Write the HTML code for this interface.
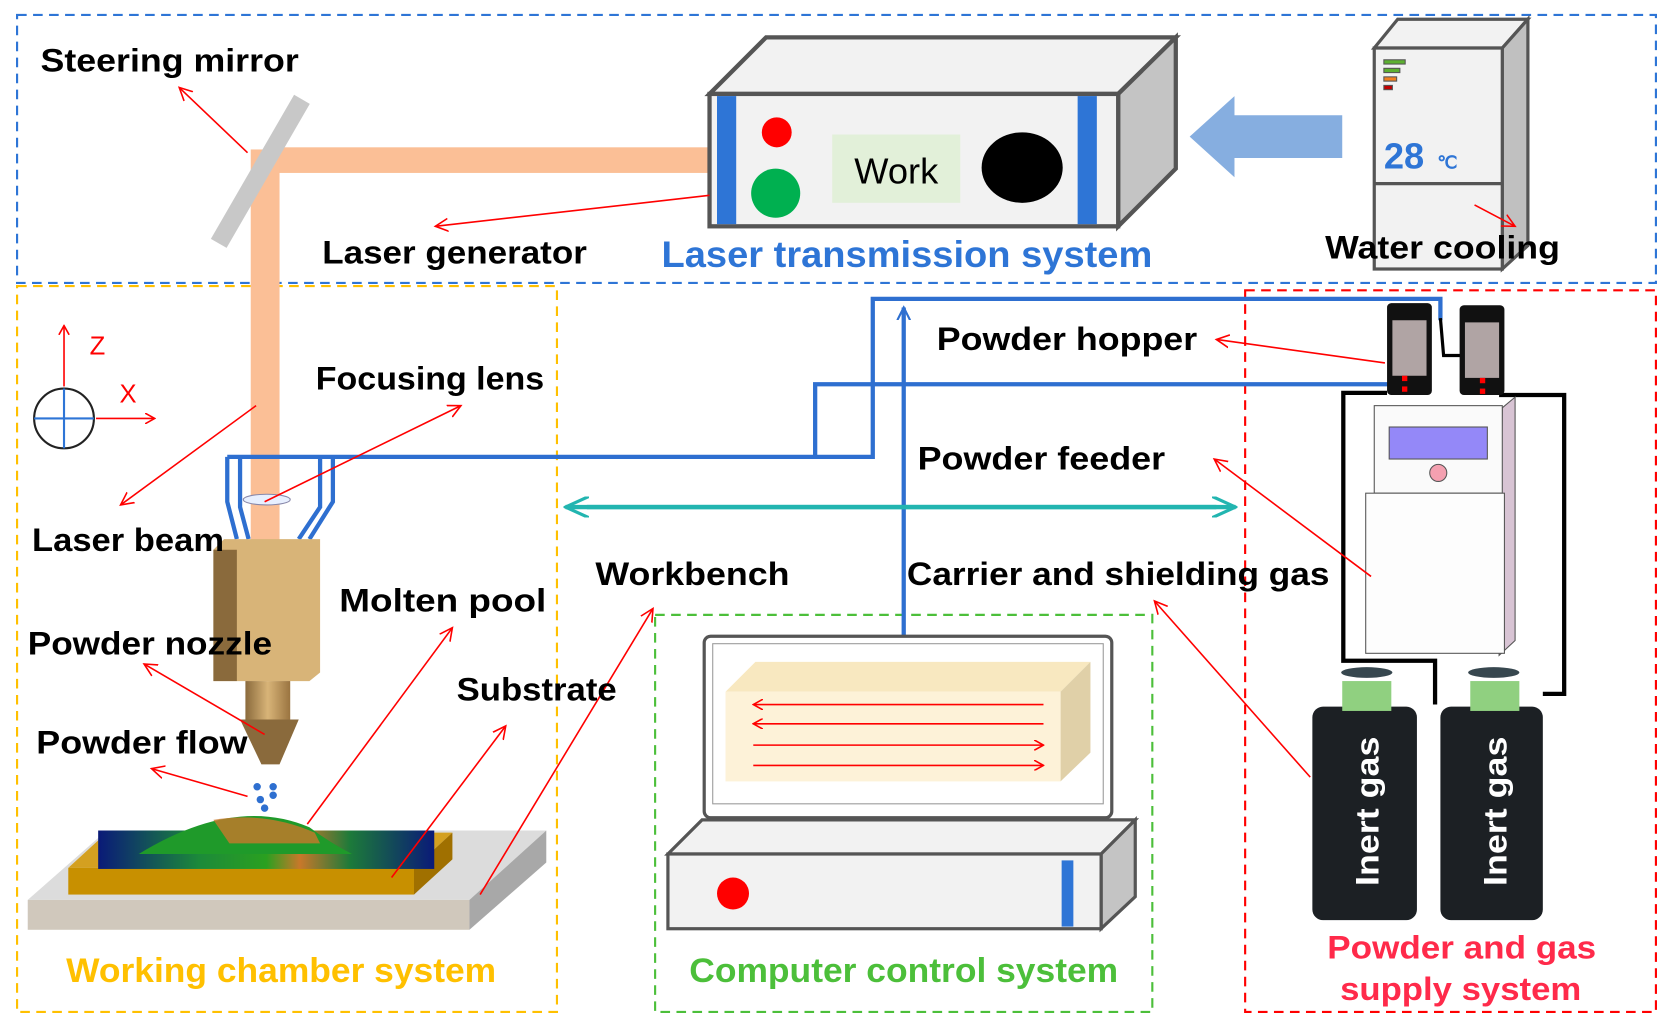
<!DOCTYPE html>
<html><head><meta charset="utf-8"><style>html,body{margin:0;padding:0;background:#fff}svg{display:block}text{font-family:"Liberation Sans",sans-serif;font-weight:bold}</style></head><body>
<svg width="1673" height="1028" viewBox="0 0 1568 963" preserveAspectRatio="none" xmlns="http://www.w3.org/2000/svg">
<defs>
<marker id="ar" markerWidth="10" markerHeight="10" refX="9" refY="5" orient="auto" markerUnits="userSpaceOnUse"><path d="M0,0 L9,5 L0,10" fill="none" stroke="#f00" stroke-width="1.5"/></marker>
<marker id="ab" markerWidth="14" markerHeight="14" refX="12" refY="7" orient="auto" markerUnits="userSpaceOnUse"><path d="M0,1 L12,7 L0,13" fill="none" stroke="#2e6fd0" stroke-width="2"/></marker>
<marker id="ac" markerWidth="24" markerHeight="20" refX="22" refY="10" orient="auto" markerUnits="userSpaceOnUse"><path d="M0,0 L22,10 L0,20" fill="none" stroke="#22b5b0" stroke-width="3"/></marker>
<marker id="ak" markerWidth="14" markerHeight="14" refX="12" refY="7" orient="auto" markerUnits="userSpaceOnUse"><path d="M0,1 L12,7 L0,13" fill="none" stroke="#f00" stroke-width="1.5"/></marker>
<linearGradient id="pool" x1="0" x2="1"><stop offset="0" stop-color="#0a1a78"/><stop offset="0.3" stop-color="#1c8a3a"/><stop offset="0.5" stop-color="#2aa020"/><stop offset="0.6" stop-color="#c8782a"/><stop offset="0.75" stop-color="#1c7a3a"/><stop offset="1" stop-color="#0a1a78"/></linearGradient>
<linearGradient id="noz" x1="0" x2="1"><stop offset="0" stop-color="#8a6a3c"/><stop offset="0.5" stop-color="#d8b478"/><stop offset="1" stop-color="#9a7440"/></linearGradient>
</defs>
<rect x="16" y="14" width="1536" height="251" fill="none" stroke="#2e75d6" stroke-width="2" stroke-dasharray="9,6"/>
<rect x="16" y="268" width="506" height="680" fill="none" stroke="#ffc000" stroke-width="2" stroke-dasharray="9,6"/>
<rect x="614" y="576" width="466" height="372" fill="none" stroke="#4cbf3a" stroke-width="2" stroke-dasharray="9,6"/>
<rect x="1167" y="272" width="385" height="676" fill="none" stroke="#f00" stroke-width="2" stroke-dasharray="9,6"/>
<rect x="258" y="138" width="407" height="24" fill="#fbbf96"/>
<rect x="235" y="140" width="27" height="372" fill="#fbbf96"/>
<line x1="205" y1="228" x2="283" y2="93" stroke="#c8c8c8" stroke-width="17"/>
<polygon points="665,88 718,35 1102,35 1048,88" fill="#f2f2f2" stroke="#555" stroke-width="4"/>
<polygon points="1048,88 1102,35 1102,158 1048,212" fill="#c4c4c4" stroke="#555" stroke-width="4"/>
<rect x="665" y="88" width="383" height="124" fill="#f2f2f2" stroke="#555" stroke-width="4"/>
<rect x="672" y="90" width="18" height="120" fill="#2e75d6"/>
<rect x="1010" y="90" width="18" height="120" fill="#2e75d6"/>
<circle cx="728" cy="124" r="14" fill="#f00"/>
<circle cx="727" cy="181" r="23" fill="#00b050"/>
<rect x="780" y="126" width="120" height="64" fill="#e2f0d9"/>
<text x="840" y="172" font-size="34" text-anchor="middle" style="font-weight:normal">Work</text>
<ellipse cx="958" cy="157" rx="38" ry="33" fill="#000"/>
<polygon points="1115,128 1157,90 1157,108 1258,108 1258,148 1157,148 1157,166" fill="#86aee0"/>
<polygon points="1288,45 1310,18 1432,18 1408,45" fill="#f2f2f2" stroke="#555" stroke-width="3"/>
<polygon points="1408,45 1432,18 1432,230 1408,252" fill="#c0c0c0" stroke="#555" stroke-width="3"/>
<rect x="1288" y="45" width="120" height="207" fill="#f2f2f2" stroke="#555" stroke-width="3"/>
<line x1="1288" y1="172" x2="1408" y2="172" stroke="#555" stroke-width="3"/>
<rect x="1297" y="56" width="20" height="4" fill="#5cb030" stroke="#555"/>
<rect x="1297" y="64" width="15" height="4" fill="#5cb030" stroke="#555"/>
<rect x="1297" y="72" width="12" height="4" fill="#f08020" stroke="#555"/>
<rect x="1297" y="80" width="8" height="4" fill="#c00000" stroke="#555"/>
<text x="1297" y="158" font-size="34" fill="#2e75d6">28</text>
<text x="1347" y="158" font-size="17" fill="#2e75d6">℃</text>
<g fill="none" stroke="#2e6fd0" stroke-width="4">
<path d="M213,428 L818,428 L818,280 L1350,280 L1350,300"/>
<path d="M764,428 L764,360 L1318,360"/>
<path d="M213,428 L213,470 L222,505 M225,430 L225,475 L233,505 M300,430 L300,475 L280,505 M312,430 L312,470 L290,505"/>
</g>
<line x1="847" y1="596" x2="847" y2="288" stroke="#2e6fd0" stroke-width="4" marker-end="url(#ab)"/>
<line x1="550" y1="475" x2="1158" y2="475" stroke="#22b5b0" stroke-width="4" marker-end="url(#ac)"/>
<line x1="1140" y1="475" x2="530" y2="475" stroke="#22b5b0" stroke-width="4" marker-end="url(#ac)"/>
<ellipse cx="250" cy="468" rx="22" ry="5" fill="#e8f0ff" stroke="#88a"/>
<polygon points="200,515 210,505 300,505 300,630 290,638 200,638" fill="#d8b478"/>
<rect x="200" y="515" width="22" height="123" fill="#8a6a3c"/>
<rect x="230" y="638" width="42" height="36" fill="url(#noz)"/>
<polygon points="225,674 280,674 262,716 245,716" fill="#8a6a3c"/>
<g fill="#2e6fd0"><circle cx="241" cy="737" r="3.5"/><circle cx="256" cy="737" r="3.5"/><circle cx="244" cy="749" r="3.5"/><circle cx="256" cy="745" r="3.5"/><circle cx="248" cy="757" r="3.5"/></g>
<polygon points="26,843 100,778 512,778 440,843" fill="#dcdcdc"/>
<rect x="26" y="843" width="414" height="28" fill="#d0c8bc"/>
<polygon points="440,843 512,778 512,808 440,871" fill="#a8a8a8"/>
<polygon points="64,813 100,780 424,780 388,813" fill="#d4a020"/>
<rect x="64" y="813" width="324" height="25" fill="#c89000"/>
<polygon points="388,813 424,780 424,805 388,838" fill="#a07000"/>
<rect x="92" y="778" width="315" height="36" fill="url(#pool)"/>
<path d="M130,800 Q220,745 290,775 Q310,790 330,800 Z" fill="#1f9a2a"/>
<path d="M200,768 Q250,760 295,780 L300,790 L215,790 Z" fill="#c8782a" opacity="0.8"/>
<circle cx="60" cy="392" r="28" fill="none" stroke="#222" stroke-width="2"/>
<line x1="32" y1="392" x2="88" y2="392" stroke="#2e75d6" stroke-width="2"/>
<line x1="60" y1="364" x2="60" y2="420" stroke="#2e75d6" stroke-width="2"/>
<line x1="60" y1="362" x2="60" y2="305" stroke="#f00" stroke-width="1.5" marker-end="url(#ar)"/>
<line x1="90" y1="392" x2="145" y2="392" stroke="#f00" stroke-width="1.5" marker-end="url(#ar)"/>
<text x="84" y="332" font-size="24" fill="#f00" style="font-weight:normal">Z</text>
<text x="112" y="377" font-size="24" fill="#f00" style="font-weight:normal">X</text>
<rect x="660" y="596" width="382" height="170" rx="6" fill="#fff" stroke="#555" stroke-width="3"/>
<rect x="668" y="603" width="366" height="150" fill="#fff" stroke="#999"/>
<polygon points="680,648 708,620 1022,620 994,648" fill="#f8e8c0"/>
<polygon points="994,648 1022,620 1022,705 994,732" fill="#e0d0a8"/>
<rect x="680" y="648" width="314" height="84" fill="#fdf2d8"/>
<g stroke="#f00" stroke-width="1.5"><line x1="978" y1="660" x2="706" y2="660" marker-end="url(#ar)"/><line x1="978" y1="678" x2="706" y2="678" marker-end="url(#ar)"/><line x1="706" y1="698" x2="978" y2="698" marker-end="url(#ar)"/><line x1="706" y1="717" x2="978" y2="717" marker-end="url(#ar)"/></g>
<polygon points="626,800 658,768 1064,768 1032,800" fill="#f2f2f2" stroke="#555" stroke-width="3"/>
<polygon points="1032,800 1064,768 1064,840 1032,870" fill="#c4c4c4" stroke="#555" stroke-width="3"/>
<rect x="626" y="800" width="406" height="70" fill="#f2f2f2" stroke="#555" stroke-width="3"/>
<circle cx="687" cy="837" r="15" fill="#f00"/>
<rect x="995" y="806" width="11" height="62" fill="#2e75d6"/>
<!-- wires -->
<path d="M1300,368 L1259,368 L1259,619 L1345,619 L1345,660" fill="none" stroke="#000" stroke-width="4"/>
<path d="M1405,370 L1466,370 L1466,650 L1446,650" fill="none" stroke="#000" stroke-width="4"/>
<path d="M1350,298 L1353,333 L1370,333" fill="none" stroke="#000" stroke-width="3"/>
<rect x="1300" y="284" width="42" height="86" rx="4" fill="#111"/>
<rect x="1305" y="300" width="32" height="52" fill="#b0a4a4"/>
<rect x="1368" y="286" width="42" height="84" rx="4" fill="#111"/>
<rect x="1373" y="302" width="32" height="52" fill="#b0a4a4"/>
<rect x="1314" y="352" width="5" height="5" fill="#f00"/><rect x="1314" y="362" width="5" height="5" fill="#f00"/>
<rect x="1387" y="354" width="5" height="5" fill="#f00"/><rect x="1387" y="364" width="5" height="5" fill="#f00"/>
<polygon points="1408,382 1420,372 1420,600 1405,614" fill="#d8c4d4" stroke="#555"/>
<rect x="1288" y="380" width="120" height="82" fill="#fafafa" stroke="#555"/>
<rect x="1302" y="400" width="92" height="30" fill="#9488f8" stroke="#555"/>
<circle cx="1348" cy="443" r="8" fill="#f4a0b0" stroke="#555"/>
<rect x="1280" y="462" width="130" height="150" fill="#fdfdfd" stroke="#555"/>
<rect x="1230" y="662" width="98" height="200" rx="10" fill="#1c2024"/>
<rect x="1258" y="638" width="46" height="28" fill="#90d080"/>
<ellipse cx="1281" cy="630" rx="24" ry="5" fill="#37474f"/>
<rect x="1350" y="662" width="96" height="200" rx="10" fill="#1c2024"/>
<rect x="1378" y="638" width="46" height="28" fill="#90d080"/>
<ellipse cx="1400" cy="630" rx="24" ry="5" fill="#37474f"/>
<text transform="translate(1292,760) rotate(-90)" font-size="30" fill="#fff" text-anchor="middle" textLength="140" lengthAdjust="spacingAndGlyphs">Inert gas</text>
<text transform="translate(1412,760) rotate(-90)" font-size="30" fill="#fff" text-anchor="middle" textLength="140" lengthAdjust="spacingAndGlyphs">Inert gas</text>
<g stroke="#f00" stroke-width="1.5" marker-end="url(#ak)">
<line x1="232" y1="143" x2="168" y2="82"/>
<line x1="665" y1="183" x2="408" y2="212"/>
<line x1="1382" y1="192" x2="1420" y2="212"/>
<line x1="240" y1="380" x2="113" y2="473"/>
<line x1="248" y1="470" x2="432" y2="380"/>
<line x1="1298" y1="340" x2="1140" y2="318"/>
<line x1="1285" y1="540" x2="1138" y2="430"/>
<line x1="1228" y1="728" x2="1082" y2="563"/>
<line x1="288" y1="772" x2="424" y2="588"/>
<line x1="367" y1="822" x2="474" y2="680"/>
<line x1="450" y1="838" x2="612" y2="570"/>
<line x1="248" y1="688" x2="135" y2="622"/>
<line x1="232" y1="746" x2="142" y2="720"/>
</g>
<g font-size="30" fill="#000" lengthAdjust="spacingAndGlyphs">
<text x="38" y="67" textLength="242" lengthAdjust="spacingAndGlyphs">Steering mirror</text>
<text x="302" y="247" textLength="248" lengthAdjust="spacingAndGlyphs">Laser generator</text>
<text x="1242" y="242" textLength="220" lengthAdjust="spacingAndGlyphs">Water cooling</text>
<text x="296" y="365" textLength="214" lengthAdjust="spacingAndGlyphs">Focusing lens</text>
<text x="30" y="516" textLength="180" lengthAdjust="spacingAndGlyphs">Laser beam</text>
<text x="26" y="613" textLength="229" lengthAdjust="spacingAndGlyphs">Powder nozzle</text>
<text x="318" y="573" textLength="194" lengthAdjust="spacingAndGlyphs">Molten pool</text>
<text x="428" y="656" textLength="150" lengthAdjust="spacingAndGlyphs">Substrate</text>
<text x="34" y="706" textLength="198" lengthAdjust="spacingAndGlyphs">Powder flow</text>
<text x="558" y="548" textLength="182" lengthAdjust="spacingAndGlyphs">Workbench</text>
<text x="878" y="328" textLength="244" lengthAdjust="spacingAndGlyphs">Powder hopper</text>
<text x="860" y="440" textLength="232" lengthAdjust="spacingAndGlyphs">Powder feeder</text>
<text x="850" y="548" textLength="396" lengthAdjust="spacingAndGlyphs">Carrier and shielding gas</text>
</g>
<text x="620" y="250" font-size="35" fill="#2e75d6" textLength="460" lengthAdjust="spacingAndGlyphs">Laser transmission system</text>
<text x="62" y="920" font-size="32" fill="#ffc000" textLength="403" lengthAdjust="spacingAndGlyphs">Working chamber system</text>
<text x="646" y="920" font-size="32" fill="#4cbf3a" textLength="402" lengthAdjust="spacingAndGlyphs">Computer control system</text>
<text x="1244" y="898" font-size="30" fill="#ff2a4a" textLength="252" lengthAdjust="spacingAndGlyphs">Powder and gas</text>
<text x="1256" y="937" font-size="30" fill="#ff2a4a" textLength="226" lengthAdjust="spacingAndGlyphs">supply system</text>
</svg>
</body></html>
